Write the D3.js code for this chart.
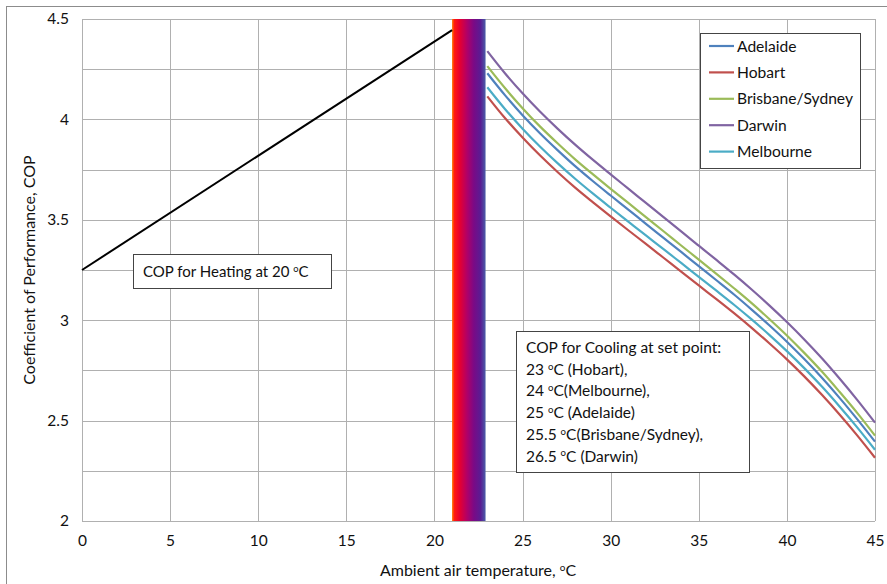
<!DOCTYPE html>
<html>
<head>
<meta charset="utf-8">
<script src="https://cdn.jsdelivr.net/npm/d3@7/dist/d3.min.js"></script>
<style>
  html, body { margin: 0; padding: 0; background: #fff; }
  svg { display: block; font-family: Lato, "Open Sans", sans-serif; }
</style>
</head>
<body>
<svg id="chart" width="887" height="584"></svg>
<script>
// Ambient temperature (°C) for the cooling curves
const coolTemps = [23,24,25,26,27,28,29,30,31,32,33,34,35,36,37,38,39,40,41,42,43,44,45];

// Cooling COP per city
const adelaide = [4.230,4.121,4.021,3.930,3.846,3.766,3.692,3.621,3.551,3.480,3.410,3.340,3.269,3.199,3.128,3.053,2.975,2.893,2.805,2.712,2.612,2.506,2.395];
const hobart   = [4.115,4.007,3.910,3.820,3.737,3.659,3.587,3.517,3.448,3.380,3.311,3.242,3.173,3.105,3.035,2.962,2.885,2.805,2.719,2.627,2.529,2.425,2.315];
const brisbane = [4.265,4.156,4.056,3.964,3.880,3.800,3.726,3.654,3.584,3.513,3.443,3.372,3.302,3.231,3.159,3.085,3.006,2.924,2.836,2.743,2.642,2.537,2.425];
const darwin   = [4.340,4.230,4.130,4.038,3.953,3.873,3.798,3.726,3.655,3.584,3.513,3.442,3.371,3.300,3.228,3.153,3.074,2.991,2.903,2.809,2.708,2.602,2.490];
const melbourne= [4.160,4.052,3.954,3.864,3.781,3.703,3.630,3.560,3.491,3.422,3.354,3.285,3.216,3.147,3.077,3.004,2.927,2.846,2.760,2.668,2.569,2.465,2.355];

// Heating COP line (set point 20 °C)
const heatTemps = [0, 21];
const heatCop = [3.25, 4.445];

// Comfort band between heating and cooling regimes (°C)
const bandRange = [21.0, 22.9];

// Axis ticks
const xTicks = [0,5,10,15,20,25,30,35,40,45];
const yGrid = [2,2.25,2.5,2.75,3,3.25,3.5,3.75,4,4.25,4.5];
const yLabels = [2,2.5,3,3.5,4,4.5];

const seriesNames = ["Adelaide","Hobart","Brisbane/Sydney","Darwin","Melbourne"];
const seriesValues = [adelaide, hobart, brisbane, darwin, melbourne];
const seriesColors = ["#4F81BD","#C0504D","#9BBB59","#8064A2","#4BACC6"];

const svg = d3.select("#chart");

// outer chart frame
svg.append("rect").attr("x",6.5).attr("y",6.5).attr("width",900).attr("height",600)
  .attr("fill","none").attr("stroke","#8c8c8c").attr("stroke-width",1);

const x = d3.scaleLinear().domain([0,45]).range([82,875]);
const y = d3.scaleLinear().domain([2,4.5]).range([521,19]);

// gridlines
const grid = svg.append("g").attr("stroke","#b0b0b0").attr("stroke-width",1).attr("shape-rendering","crispEdges");
grid.selectAll("line.h").data(yGrid).enter().append("line")
  .attr("x1",x(0)).attr("x2",x(45)).attr("y1",d=>Math.round(y(d))+0.5).attr("y2",d=>Math.round(y(d))+0.5);
grid.selectAll("line.v").data(xTicks).enter().append("line")
  .attr("y1",y(2)).attr("y2",y(4.5)).attr("x1",d=>Math.round(x(d))+0.5).attr("x2",d=>Math.round(x(d))+0.5);

// axes (labels only; grid supplies the lines)
const xAxis = d3.axisBottom(x).tickValues(xTicks).tickSize(0).tickPadding(14).tickFormat(d3.format("d"));
const gx = svg.append("g").attr("transform",`translate(0,${y(2)})`).call(xAxis);
const yAxis = d3.axisLeft(y).tickValues(yLabels).tickSize(0).tickPadding(13).tickFormat(d=>String(d));
const gy = svg.append("g").attr("transform",`translate(${x(0)},0)`).call(yAxis);
[gx,gy].forEach(g=>{
  g.select(".domain").remove();
  g.selectAll("text").attr("font-family","Lato, sans-serif").attr("font-size",15.5).attr("fill","#111");
});

// comfort colour band
const defs = svg.append("defs");
const grad = defs.append("linearGradient").attr("id","band").attr("x1","0%").attr("x2","100%");
[["0%","#ff7a00"],["7%","#ff1a10"],["22%","#e8002e"],["45%","#b00068"],["65%","#7a0a86"],["85%","#5a1c92"],["100%","#4a5ca8"]]
  .forEach(s=>grad.append("stop").attr("offset",s[0]).attr("stop-color",s[1]));
svg.append("rect")
  .attr("x",x(bandRange[0])).attr("width",x(bandRange[1])-x(bandRange[0]))
  .attr("y",y(4.5)).attr("height",y(2)-y(4.5))
  .attr("fill","url(#band)");

// heating line
svg.append("path")
  .datum(heatTemps.map((t,i)=>[t,heatCop[i]]))
  .attr("d",d3.line().x(d=>x(d[0])).y(d=>y(d[1])))
  .attr("fill","none").attr("stroke","#000").attr("stroke-width",2);

// cooling curves
const line = d3.line().curve(d3.curveCatmullRom).x(d=>x(d[0])).y(d=>y(d[1]));
seriesValues.forEach((vals,i)=>{
  svg.append("path")
    .datum(coolTemps.map((t,j)=>[t,vals[j]]))
    .attr("d",line)
    .attr("fill","none").attr("stroke",seriesColors[i]).attr("stroke-width",2.2);
});

// helper: text with a superscript "o" before C
function degText(sel, before, after, size){
  sel.append("tspan").text(before);
  sel.append("tspan").attr("font-size",size*0.62).attr("dy",-size*0.33).text("o");
  sel.append("tspan").attr("dy",size*0.33).text("C" + after);
}

// heating annotation box
svg.append("rect").attr("x",133.5).attr("y",254.5).attr("width",198).attr("height",34)
  .attr("fill","#fff").attr("stroke","#444").attr("stroke-width",1);
degText(svg.append("text").attr("x",143).attr("y",277).attr("font-size",15).attr("fill","#111"),
  "COP for Heating at 20 ","",15);

// cooling annotation box
svg.append("rect").attr("x",516.5).attr("y",331.5).attr("width",233).attr("height",141)
  .attr("fill","#fff").attr("stroke","#444").attr("stroke-width",1);
const coolLines = [
  ["COP for Cooling at set point:", null],
  ["23 ", " (Hobart),"],
  ["24 ", "(Melbourne),"],
  ["25 ", " (Adelaide)"],
  ["25.5 ", "(Brisbane/Sydney),"],
  ["26.5 ", " (Darwin)"]
];
coolLines.forEach((l,i)=>{
  const t = svg.append("text").attr("x",526).attr("y",353+i*21.7).attr("font-size",15.5).attr("fill","#111");
  if (l[1]===null) t.text(l[0]); else degText(t,l[0],l[1],15.5);
});

// legend
const lg = svg.append("g");
lg.append("rect").attr("x",700.5).attr("y",33.5).attr("width",160).attr("height",135)
  .attr("fill","#fff").attr("stroke","#444").attr("stroke-width",1);
seriesNames.forEach((n,i)=>{
  const cy = 46 + i*26.4;
  lg.append("line").attr("x1",709).attr("x2",734).attr("y1",cy).attr("y2",cy)
    .attr("stroke",seriesColors[i]).attr("stroke-width",2.2);
  lg.append("text").attr("x",737).attr("y",cy+5.5).attr("font-size",15.6).attr("fill","#111").text(n);
});

// axis titles
degText(svg.append("text").attr("x",478).attr("y",576).attr("text-anchor","middle").attr("font-size",16).attr("fill","#111"),
  "Ambient air temperature, ","",16);
svg.append("text").attr("transform","translate(35,270) rotate(-90)").attr("text-anchor","middle")
  .attr("font-size",16).attr("fill","#111").text("Coefficient of Performance, COP");
</script>
</body>
</html>
